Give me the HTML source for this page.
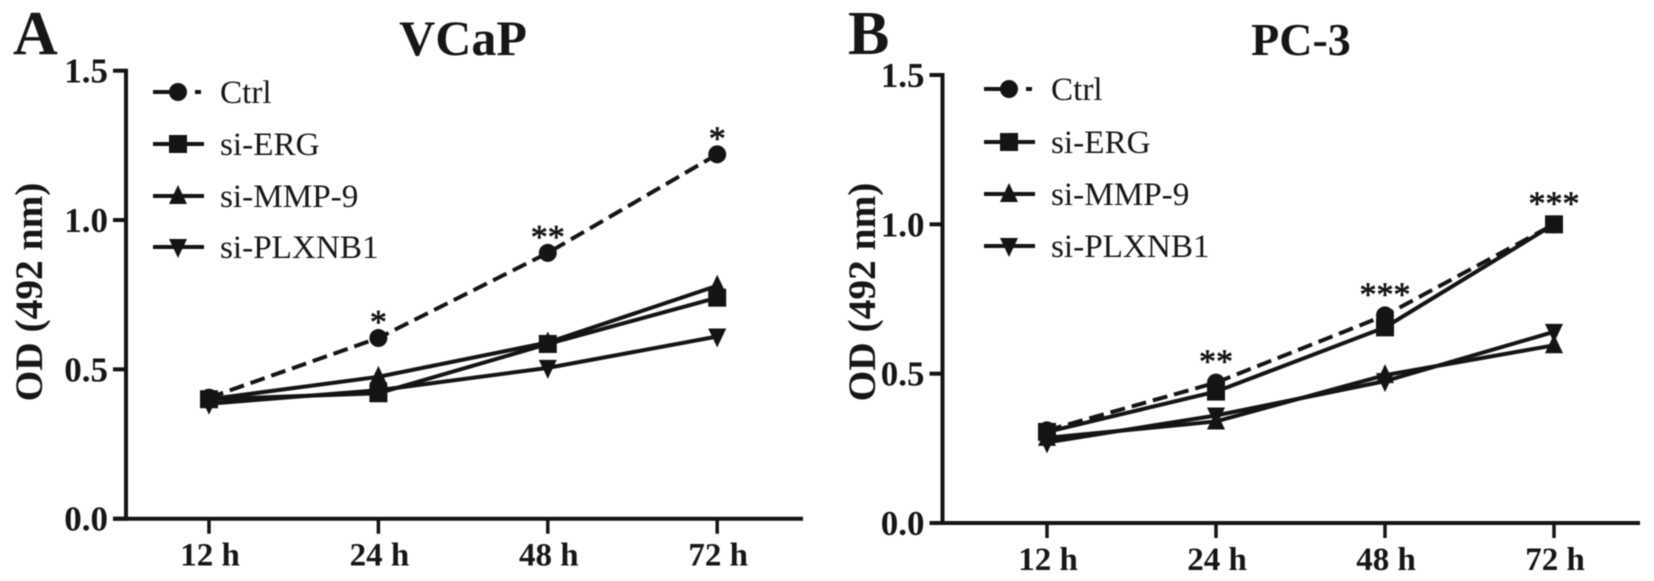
<!DOCTYPE html>
<html>
<head>
<meta charset="utf-8">
<title>VCaP and PC-3 OD curves</title>
<style>
  html, body { margin: 0; padding: 0; background: #fff; }
  #figure { display: block; width: 1654px; height: 581px; filter: blur(0.55px); }
  text { font-family: "Liberation Serif", serif; fill: #161616; }
  .bold { font-weight: 700; }
</style>
</head>
<body>
<svg id="figure" width="1654" height="581" viewBox="0 0 1654 581" xmlns="http://www.w3.org/2000/svg"></svg>
<script>
const categories = ['12 h', '24 h', '48 h', '72 h'];
const yTicks = [0, 0.5, 1.0, 1.5];
const yTickLabels = ['0.0', '0.5', '1.0', '1.5'];
const seriesNames = ['Ctrl', 'si-ERG', 'si-MMP-9', 'si-PLXNB1'];

const vcapCtrl = [0.405, 0.605, 0.89, 1.22];
const vcapErg = [0.40, 0.42, 0.585, 0.74];
const vcapMmp = [0.40, 0.475, 0.59, 0.78];
const vcapPlx = [0.385, 0.43, 0.505, 0.61];
const vcapStars = ['', '*', '**', '*'];

const pc3Ctrl = [0.31, 0.47, 0.695, 1.0];
const pc3Erg = [0.305, 0.44, 0.655, 1.0];
const pc3Mmp = [0.285, 0.34, 0.495, 0.595];
const pc3Plx = [0.27, 0.36, 0.475, 0.64];
const pc3Stars = ['', '**', '***', '***'];

const svg = document.getElementById('figure');
const NS = 'http://www.w3.org/2000/svg';
const ink = '#141414';

function make(parent, tag, geometry, content) {
  const el = document.createElementNS(NS, tag);
  for (const k in geometry) el.setAttribute(k, geometry[k]);
  if (content !== undefined) el.textContent = content;
  parent.appendChild(el);
  return el;
}

function marker(parent, kind, cx, cy) {
  const s = 9;
  if (kind === 0) return make(parent, 'circle', { cx: cx, cy: cy, r: s, fill: ink });
  if (kind === 1) return make(parent, 'rect', { x: cx - s, y: cy - s, width: 2 * s, height: 2 * s, fill: ink });
  if (kind === 2) return make(parent, 'polygon', { points: (cx) + ',' + (cy - 11) + ' ' + (cx + s) + ',' + (cy + 8) + ' ' + (cx - s) + ',' + (cy + 8), fill: ink });
  return make(parent, 'polygon', { points: (cx) + ',' + (cy + 11) + ' ' + (cx + s) + ',' + (cy - 8) + ' ' + (cx - s) + ',' + (cy - 8), fill: ink });
}

function drawPanel(cfg) {
  const g = make(svg, 'g', {});
  
  

  const xScale = function (i) { return cfg.x0 + i * cfg.dx; };
  const yScale = function (v) { return cfg.yBase - v * cfg.yUnit; };

  const letter = make(g, 'text', { x: cfg.letterX, y: 54, 'font-size': 62, class: 'bold' }, cfg.letter);
  
  

  const title = make(g, 'text', { x: cfg.titleX, y: cfg.titleY, 'font-size': cfg.titleSize, class: 'bold', 'text-anchor': 'middle' }, cfg.title);
  
  

  const yTitle = make(g, 'text', { transform: 'translate(' + cfg.yTitleX + ',292) rotate(-90)', 'font-size': 39.4, class: 'bold', 'text-anchor': 'middle' }, 'OD (492 nm)');
  
  

  const yAxis = make(g, 'line', { x1: cfg.axisX, x2: cfg.axisX, y1: yScale(1.5) - 2, y2: cfg.yBase + 2, stroke: ink, 'stroke-width': 4 });
  
  

  const xAxis = make(g, 'line', { x1: cfg.axisX - 13, x2: cfg.axisEnd, y1: cfg.yBase, y2: cfg.yBase, stroke: ink, 'stroke-width': 4 });
  
  

  yTicks.forEach(function (v, i) {
    const tick = make(g, 'line', { x1: cfg.axisX - 13, x2: cfg.axisX, y1: yScale(v), y2: yScale(v), stroke: ink, 'stroke-width': 4 });
    
    
    const label = make(g, 'text', { x: cfg.axisX - 18, y: yScale(v) + 12, 'font-size': 35, class: 'bold', 'text-anchor': 'end' }, yTickLabels[i]);
    
    
  });

  categories.forEach(function (c, i) {
    const tick = make(g, 'line', { x1: xScale(i), x2: xScale(i), y1: cfg.yBase, y2: cfg.yBase + 15, stroke: ink, 'stroke-width': 3.5 });
    
    
    const label = make(g, 'text', { x: xScale(i) + 1, y: cfg.yBase + 47, 'font-size': 33, class: 'bold', 'text-anchor': 'middle' }, c);
    
    
  });

  cfg.series.forEach(function (values, s) {
    const group = make(g, 'g', {});
    
    
    const pts = values.map(function (v, i) { return xScale(i) + ',' + yScale(v); }).join(' ');
    const attrs = { points: pts, fill: 'none', stroke: ink, 'stroke-width': 4 };
    if (s === 0) attrs['stroke-dasharray'] = '15 7';
    const line = make(group, 'polyline', attrs);
    
    
    values.forEach(function (v, i) {
      const m = marker(group, s, xScale(i), yScale(v));
      
      
    });
  });

  cfg.stars.forEach(function (star, i) {
    if (!star) return;
    const t = make(g, 'text', { x: xScale(i), y: yScale(cfg.series[0][i]) - cfg.starGap + 16, 'font-size': 34, 'text-anchor': 'middle', stroke: '#161616', 'stroke-width': 0.7 }, star);
    
    
  });

  seriesNames.forEach(function (name, s) {
    const y = cfg.legendY[s];
    const entry = make(g, 'g', {});
    
    
    const attrs = { x1: cfg.legendX, x2: cfg.legendX + 51, y1: y, y2: y, stroke: ink, 'stroke-width': 4 };
    if (s === 0) attrs['stroke-dasharray'] = '33 9 6 10';
    const swatch = make(entry, 'line', attrs);
    
    
    const glyph = marker(entry, s, cfg.legendX + 25, y);
    
    
    const label = make(entry, 'text', { x: cfg.legendX + 67, y: y + 11, 'font-size': 33.2 }, name);
    
    
  });
}

drawPanel({
  key: 'vcap', letter: 'A', title: 'VCaP', letterX: 13, titleX: 463, titleY: 55, titleSize: 50, yTitleX: 42,
  axisX: 126, axisEnd: 803, yBase: 518.7, yUnit: 298.67, x0: 209, dx: 169.4,
  legendX: 153, legendY: [92, 144, 196, 247], starGap: 21,
  series: [vcapCtrl, vcapErg, vcapMmp, vcapPlx], stars: vcapStars
});

drawPanel({
  key: 'pc3', letter: 'B', title: 'PC-3', letterX: 848, titleX: 1301, titleY: 55, titleSize: 46, yTitleX: 875,
  axisX: 942.5, axisEnd: 1640, yBase: 523, yUnit: 298.67, x0: 1047, dx: 169,
  legendX: 984, legendY: [89, 142, 194, 246], starGap: 26,
  series: [pc3Ctrl, pc3Erg, pc3Mmp, pc3Plx], stars: pc3Stars
});
</script>
</body>
</html>
